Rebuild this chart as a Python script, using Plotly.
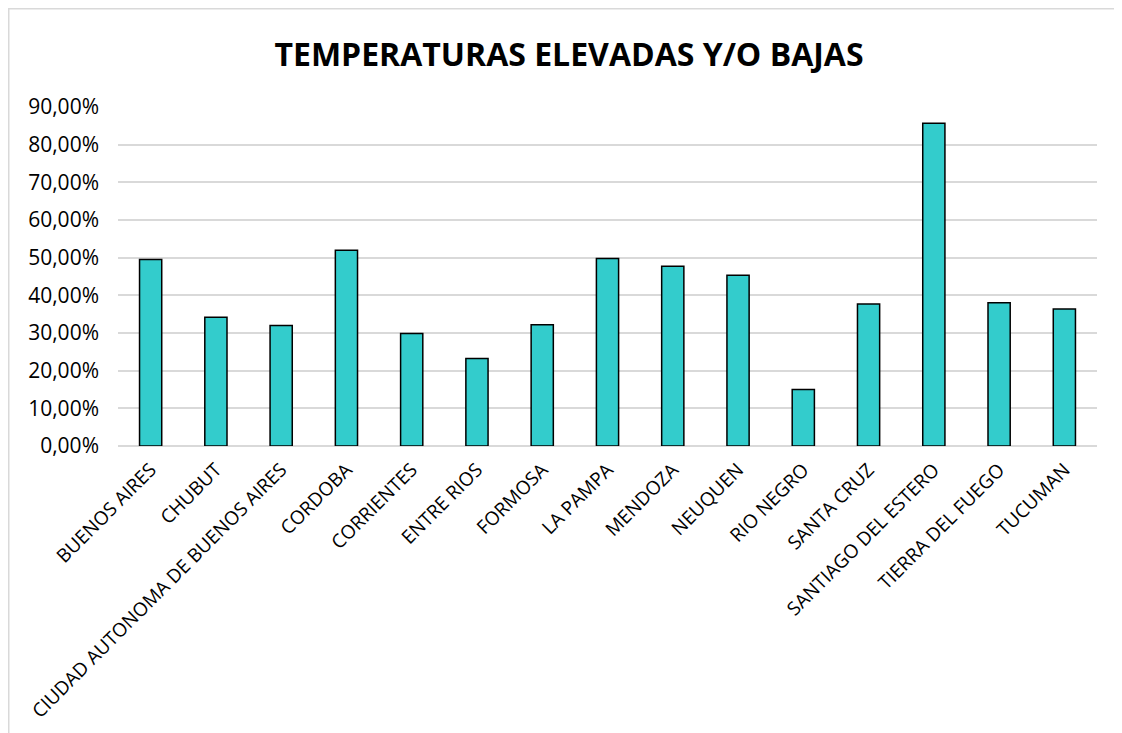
import plotly.graph_objects as go

categories = ["BUENOS AIRES", "CHUBUT", "CIUDAD AUTONOMA DE BUENOS AIRES", "CORDOBA",
              "CORRIENTES", "ENTRE RIOS", "FORMOSA", "LA PAMPA", "MENDOZA", "NEUQUEN",
              "RIO NEGRO", "SANTA CRUZ", "SANTIAGO DEL ESTERO", "TIERRA DEL FUEGO", "TUCUMAN"]
values = [0.495, 0.342, 0.320, 0.520, 0.299, 0.232, 0.322, 0.498, 0.477, 0.453,
          0.150, 0.377, 0.857, 0.380, 0.364]
y_ticks = [0, 0.1, 0.2, 0.3, 0.4, 0.5, 0.6, 0.7, 0.8, 0.9]

FONT = "Open Sans"
# page body has an 8px default margin; figure coordinates below are offset for that
L, T, PW, PH = 110, 99, 979, 339

fig = go.Figure(go.Bar(
    x=categories, y=values,
    marker=dict(color="#33CCCC", line=dict(color="black", width=1.5)),
))

fig.update_layout(
    width=1122, height=733,
    margin=dict(l=L, r=1122 - L - PW, t=T, b=733 - T - PH),
    paper_bgcolor="white", plot_bgcolor="white",
    separators=",.",
    bargap=0.66,
    showlegend=False,
    font=dict(family=FONT, color="black"),
    title=dict(text="<b>TEMPERATURAS ELEVADAS Y/O BAJAS</b>",
               x=0.5, xanchor="center", y=1 - 47 / 733, yanchor="middle",
               yref="container", font=dict(size=32, family=FONT, color="black")),
    xaxis=dict(tickangle=-45, tickfont=dict(size=19, family=FONT), showgrid=False,
               showline=False, ticks="", ticklabelstandoff=8),
    yaxis=dict(range=[0, 0.9], tickvals=y_ticks, tickformat=".2%",
               tickfont=dict(size=21, family=FONT), gridcolor="#D9D9D9", gridwidth=1.5,
               zeroline=True, zerolinecolor="#D9D9D9", zerolinewidth=1.5,
               showline=False, ticks="", ticklabelstandoff=18),
    shapes=[dict(type="rect", xref="paper", yref="paper",
                 x0=(0.5 - L) / PW, x1=(1140 - L) / PW,
                 y0=-2, y1=(T + PH - 0.5) / PH,
                 line=dict(color="#D9D9D9", width=2), layer="below")],
)

fig.write_html("out.html")
